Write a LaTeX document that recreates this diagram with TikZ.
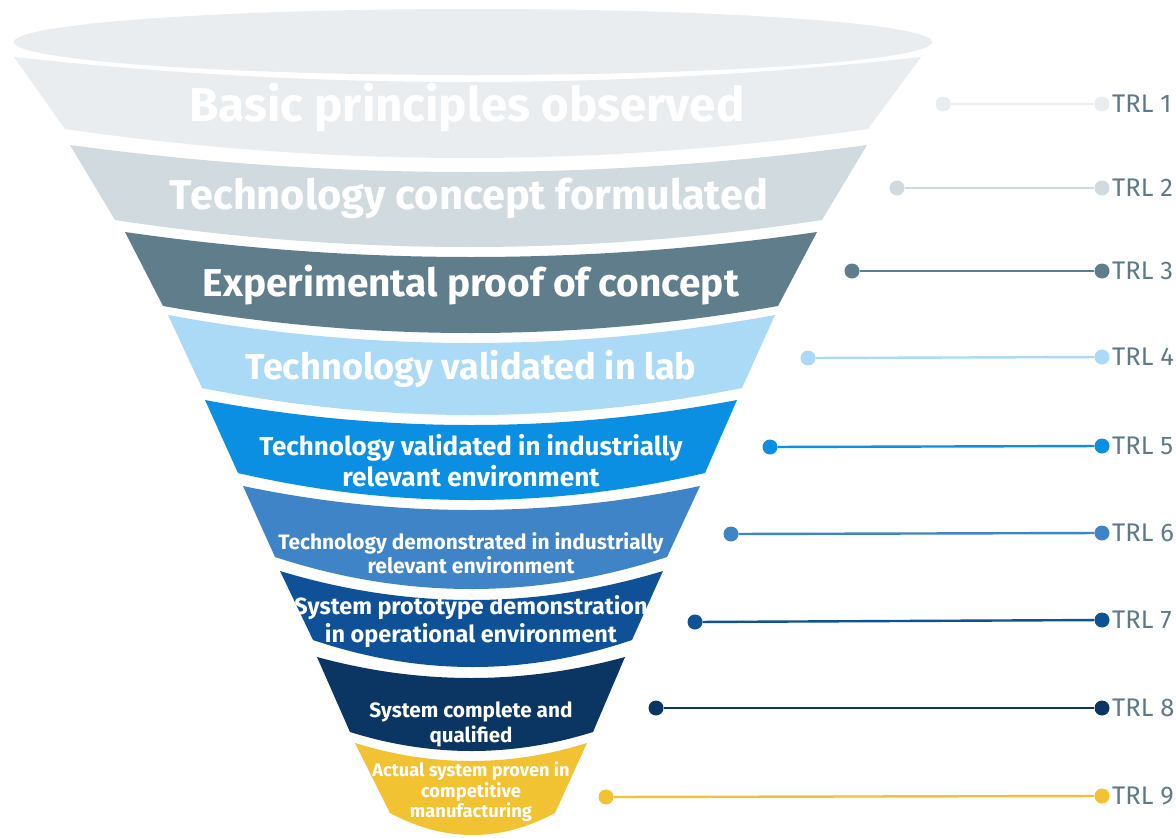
\documentclass[tikz,border=0pt]{standalone}
\usepackage{fontspec}
\usepackage{graphicx}
\setmainfont{Fira Sans}

% band and marker colours
\definecolor{trlA}{HTML}{E9EDF0}
\definecolor{trlB}{HTML}{D1DADF}
\definecolor{trlC}{HTML}{607D8B}
\definecolor{trlD}{HTML}{AADAF6}
\definecolor{trlE}{HTML}{0B8FE3}
\definecolor{trlF}{HTML}{3F84C7}
\definecolor{trlG}{HTML}{0E5197}
\definecolor{trlH}{HTML}{0B3663}
\definecolor{trlI}{HTML}{F1C232}
\definecolor{labelgray}{HTML}{5E7A87}

% one funnel band: straight slanted sides, parabolic top and bottom edges
% #1 colour, #2/#3 top-left/top-right x, #4 top y, #5 top sag,
% #6/#7 bottom-left/bottom-right x, #8 bottom y, #9 bottom sag
\newcommand\funnelband[9]{%
  \pgfmathsetmacro\fbTopMid{(#2+#3)/2}%
  \pgfmathsetmacro\fbBotMid{(#6+#7)/2}%
  \fill[#1] (#2,#4)
    .. controls ({#2+2/3*(\fbTopMid-#2)},{#4+4/3*#5}) and ({#3+2/3*(\fbTopMid-#3)},{#4+4/3*#5}) .. (#3,#4)
    -- (#7,#8)
    .. controls ({#7+2/3*(\fbBotMid-#7)},{#8+4/3*#9}) and ({#6+2/3*(\fbBotMid-#6)},{#8+4/3*#9}) .. (#6,#8)
    -- cycle;}

% text line scaled to a given width
\newcommand\fitline[2]{\resizebox{#1pt}{!}{\bfseries #2}}

\begin{document}
\begin{tikzpicture}[x=1pt,y=-1pt,
  bandtext/.style={text=white,inner sep=0pt,anchor=base},
  dot/.style={circle,fill=#1,inner sep=0pt,minimum size=15pt},
  link/.style={draw=#1,line width=2.4pt},
  trl/.style={text=labelgray,inner sep=0pt,anchor=west,font=\fontsize{25.5}{30}\selectfont}]

\useasboundingbox (0,0) rectangle (1176,838);
\fill[white] (0,0) rectangle (1176,838);

% funnel mouth
\fill[trlA] (473,42) ellipse [x radius=459, y radius=33];

% funnel bands, top to bottom
\funnelband{trlA}{14}{921}{57}{25}{65}{868}{129}{29}
\funnelband{trlB}{70}{867}{145}{27}{115}{822}{220}{27}
\funnelband{trlC}{125}{817}{232}{25}{163}{778}{306}{27}
\funnelband{trlD}{168}{775}{315}{28}{202}{742}{388}{27}
\funnelband{trlE}{205}{737}{400}{25}{238}{705}{473}{27}
\funnelband{trlF}{243}{700}{486}{24}{275}{667}{557}{32}
\funnelband{trlG}{280}{663}{571}{29}{313}{632}{640}{27}
\funnelband{trlH}{317}{625}{657}{21}{350}{593}{732}{19}
\funnelband{trlI}{355}{587}{743}{18}{390}{555}{813}{22}

% band captions
\node[bandtext] (t1) at (467,121) {\fitline{555}{Basic principles observed}};
\node[bandtext] (t2) at (469,209) {\fitline{598}{Technology concept formulated}};
\node[bandtext] (t3) at (471,296) {\fitline{536}{Experimental proof of concept}};
\node[bandtext] (t4) at (471,379) {\fitline{451}{Technology validated in lab}};
\node[bandtext] (t5a) at (471,455) {\fitline{423}{Technology validated in industrially}};
\node[bandtext] (t5b) at (471,486) {\fitline{257}{relevant environment}};
\node[bandtext] (t6a) at (471,549) {\fitline{385}{Technology demonstrated in industrially}};
\node[bandtext] (t6b) at (471,573) {\fitline{207}{relevant environment}};
\node[bandtext] (t7a) at (471,614) {\fitline{353}{System prototype demonstration}};
\node[bandtext] (t7b) at (471,642) {\fitline{292}{in operational environment}};
\node[bandtext] (t8a) at (471,717) {\fitline{203}{System complete and}};
\node[bandtext] (t8b) at (471,742) {\fitline{83}{qualified}};
\node[bandtext] (t9a) at (471,776) {\fitline{197}{Actual system proven in}};
\node[bandtext] (t9b) at (471,797) {\fitline{100}{competitive}};
\node[bandtext] (t9c) at (471,817) {\fitline{122}{manufacturing}};

% level markers
\foreach \n/\col/\xl/\yl/\yr in {1/trlA/943/104/104, 2/trlB/897/188/188, 3/trlC/852/271/271,
    4/trlD/808/358/357, 5/trlE/770/447/446, 6/trlF/731/534/533,
    7/trlG/695/622/620, 8/trlH/656/708/708, 9/trlI/606/797/796}{
  \node[dot=\col] (l\n) at (\xl,\yl) {};
  \node[dot=\col] (r\n) at (1102,\yr) {};
  \draw[link=\col] (l\n) -- (r\n);
  \node[trl] (lab\n) at (1112,\yr) {TRL \n};
}
\end{tikzpicture}
\end{document}
